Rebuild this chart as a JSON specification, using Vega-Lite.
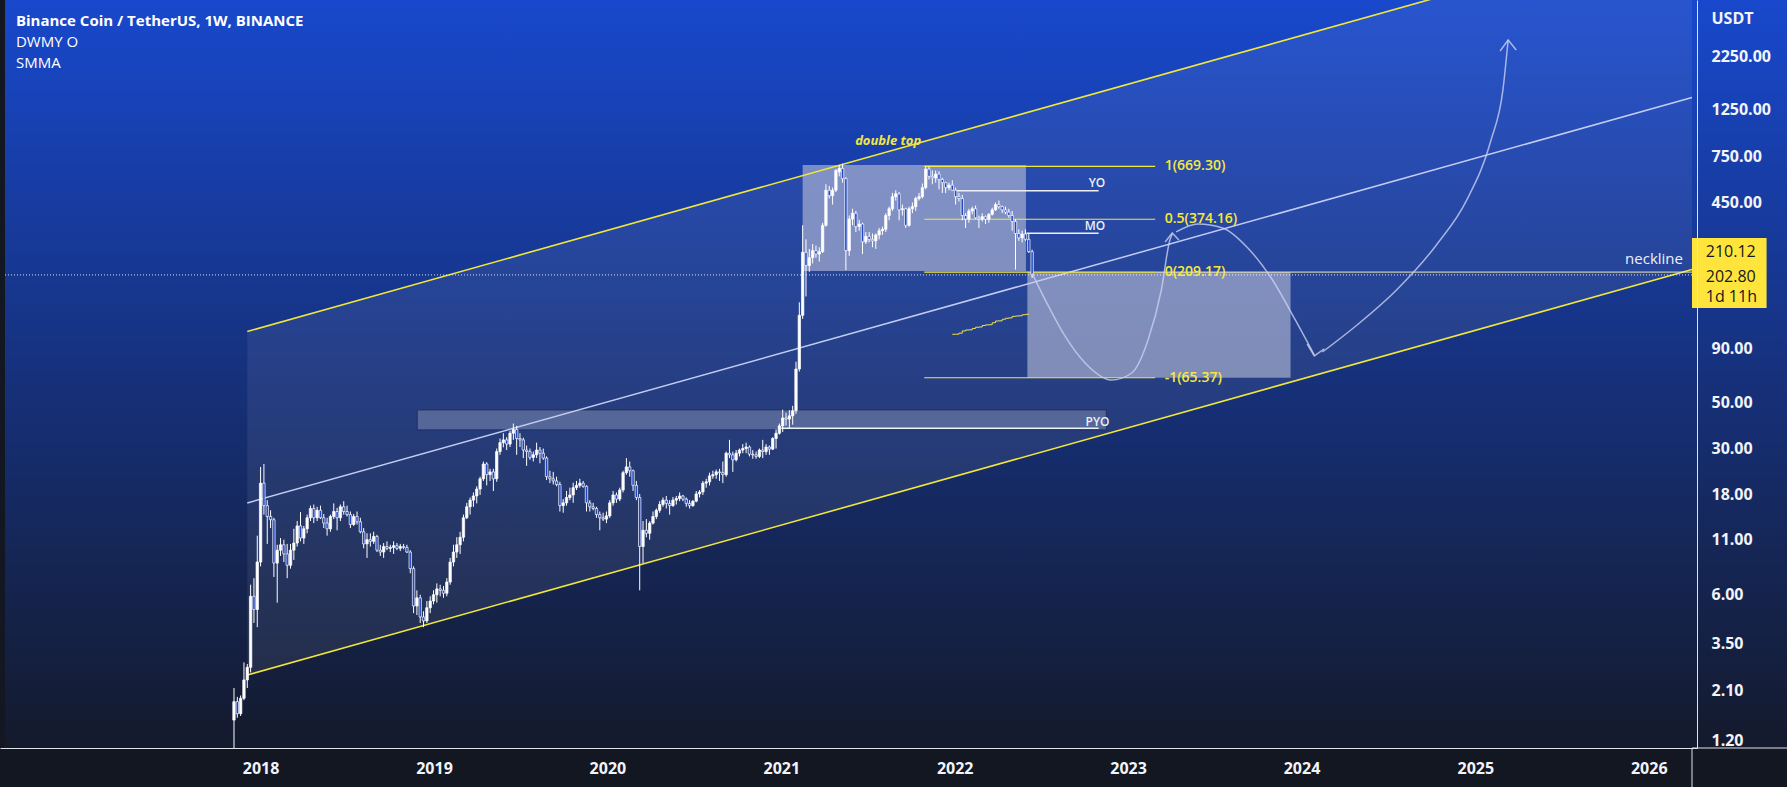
{
"$schema": "https://vega.github.io/schema/vega-lite/v6.json",
"width": 1697, "height": 748,
"autosize": {"type": "none"},
"padding": {"left": 0, "top": 0, "right": 90, "bottom": 39},
"background": "#131722",
"config": {"view": {"stroke": null}, "font": "Open Sans"},
"datasets": {
"bg": [{"t":"2016-07-12","t2":"2027-06-01","p":4180,"p2":1.1107}],
"band": [{"t":"2017-12-04","p":108.8,"p2":2.48},{"t":"2026-04-02","p":9444,"p2":215.3}],
"chan": [{"g":"u","t":"2017-12-04","p":108.8},{"g":"u","t":"2026-04-02","p":9444},{"g":"l","t":"2017-12-04","p":2.48},{"g":"l","t":"2026-04-02","p":215.3}],
"mid": [{"t":"2017-12-04","p":16.48},{"t":"2026-04-02","p":1430}],
"boxes": [{"t":"2021-02-15","t2":"2022-05-31","p":680,"p2":211.5},{"t":"2022-06-03","t2":"2023-12-09","p":209.17,"p2":65.37}],
"pyo": [{"t":"2018-11-27","t2":"2022-11-16","p":45.8,"p2":36.9}],
"fib": [{"t":"2021-10-29","t2":"2023-02-27","p":669.3},{"t":"2021-10-29","t2":"2023-02-27","p":374.16},{"t":"2021-10-29","t2":"2023-02-27","p":209.17},{"t":"2021-10-29","t2":"2023-02-27","p":65.37}],
"neck": [{"t":"2023-02-27","t2":"2026-04-02","p":209.17}],
"levels": [{"t":"2022-01-01","t2":"2022-10-31","p":511.7},{"t":"2022-06-01","t2":"2022-10-31","p":320.6},{"t":"2021-01-01","t2":"2022-10-31","p":37.5}],
"price": [{"t":"2016-07-12","t2":"2026-04-02","p":202.8}],
"smma": [{"t":"2021-12-27","p":105.5},{"t":"2022-01-03","p":105.6},{"t":"2022-01-10","p":106.8},{"t":"2022-01-17","p":109.5},{"t":"2022-01-24","p":110.6},{"t":"2022-01-31","p":110.8},{"t":"2022-02-07","p":112.5},{"t":"2022-02-14","p":114.0},{"t":"2022-02-21","p":114.3},{"t":"2022-02-28","p":116.2},{"t":"2022-03-07","p":117.0},{"t":"2022-03-14","p":117.2},{"t":"2022-03-21","p":119.8},{"t":"2022-03-28","p":122.1},{"t":"2022-04-04","p":122.3},{"t":"2022-04-11","p":124.5},{"t":"2022-04-18","p":125.8},{"t":"2022-04-25","p":126.4},{"t":"2022-05-02","p":128.5},{"t":"2022-05-09","p":129.0},{"t":"2022-05-16","p":129.3},{"t":"2022-05-23","p":130.8},{"t":"2022-05-30","p":131.5},{"t":"2022-06-06","p":131.9}],
"curves": [
{"g":"a","t":"2022-06-13","p":206.5},{"g":"a","t":"2022-07-18","p":142.9},{"g":"a","t":"2022-08-22","p":102.7},{"g":"a","t":"2022-10-03","p":76.7},{"g":"a","t":"2022-11-27","p":63.8},{"g":"a","t":"2023-01-08","p":68.7},{"g":"a","t":"2023-02-12","p":99.1},{"g":"a","t":"2023-03-12","p":171.8},{"g":"a","t":"2023-03-30","p":297.9},{"g":"a","t":"2023-04-04","p":318.3},
{"g":"b","t":"2023-04-12","p":325.4},{"g":"b","t":"2023-05-28","p":355.4},{"g":"b","t":"2023-07-19","p":340.1},{"g":"b","t":"2023-09-10","p":272.9},{"g":"b","t":"2023-11-01","p":191.8},{"g":"b","t":"2023-12-19","p":123.5},{"g":"b","t":"2024-01-28","p":84.0},
{"g":"c","t":"2024-02-14","p":86.8},{"g":"c","t":"2024-04-27","p":116.9},{"g":"c","t":"2024-07-19","p":171.8},{"g":"c","t":"2024-10-11","p":282.0},{"g":"c","t":"2024-12-14","p":462.8},{"g":"c","t":"2025-02-03","p":895.5},{"g":"c","t":"2025-02-28","p":1553},{"g":"c","t":"2025-03-11","p":2692}],
"heads": [
{"g":"h1","k":1,"t":"2023-03-20","p":291.4},{"g":"h1","k":2,"t":"2023-04-04","p":321.8},{"g":"h1","k":3,"t":"2023-04-18","p":297.9},
{"g":"h2","k":1,"t":"2024-01-13","p":94.8},{"g":"h2","k":2,"t":"2024-01-28","p":83.1},{"g":"h2","k":3,"t":"2024-02-18","p":89.8},
{"g":"h3","k":1,"t":"2025-02-22","p":2386},{"g":"h3","k":2,"t":"2025-03-11","p":2692},{"g":"h3","k":3,"t":"2025-03-28","p":2412}],
"title": [{"t":"2016-08-04","p":3321,"s":"Binance Coin / TetherUS, 1W, BINANCE"}],
"sub": [{"t":"2016-08-04","p":2636,"s":"DWMY O"},{"t":"2016-08-04","p":2092,"s":"SMMA"}],
"fibtxt": [{"t":"2023-03-19","p":669.3,"s":"1(669.30)"},{"t":"2023-03-19","p":374.16,"s":"0.5(374.16)"},{"t":"2023-03-19","p":209.17,"s":"0(209.17)"},{"t":"2023-03-19","p":65.37,"s":"-1(65.37)"}],
"lvltxt": [{"t":"2022-11-14","p":557.6,"s":"YO"},{"t":"2022-11-14","p":347.6,"s":"MO"},{"t":"2022-11-23","p":40.3,"s":"PYO"}],
"necktxt": [{"t":"2026-03-14","p":241.6,"s":"neckline"}],
"dtop": [{"t":"2021-08-14","p":885.6,"s":"double top"}],
"ybox": [{"t":"2026-04-02","t2":"2026-09-06","p":304.7,"p2":141}],
"yboxtxt": [{"t":"2026-05-01","p":261,"s":"210.12"},{"t":"2026-05-01","p":198.2,"s":"202.80"},{"t":"2026-05-01","p":159.1,"s":"1d 11h"}],
"axh": [{"t":"2026-04-02","t2":"2027-06-01","p":1.1107}],
"axv": [{"t":"2026-04-02","p":1.1107,"p2":0.7}],
"candles": [
{"t":"2017-11-06","o":1.51,"h":2.15,"l":1.0,"c":1.85},
{"t":"2017-11-13","o":1.85,"h":1.95,"l":1.55,"c":1.62},
{"t":"2017-11-20","o":1.62,"h":1.98,"l":1.58,"c":1.92},
{"t":"2017-11-27","o":1.92,"h":2.85,"l":1.88,"c":2.35},
{"t":"2017-12-04","o":2.35,"h":2.8,"l":2.15,"c":2.7},
{"t":"2017-12-11","o":2.7,"h":6.7,"l":2.55,"c":5.9},
{"t":"2017-12-18","o":5.9,"h":7.2,"l":4.4,"c":5.1},
{"t":"2017-12-25","o":5.1,"h":11.5,"l":4.2,"c":8.6},
{"t":"2018-01-01","o":8.6,"h":24.5,"l":8.2,"c":20.5},
{"t":"2018-01-08","o":20.5,"h":25.3,"l":14.5,"c":16.0},
{"t":"2018-01-15","o":16.0,"h":17.0,"l":10.5,"c":14.2},
{"t":"2018-01-22","o":14.2,"h":15.2,"l":12.5,"c":13.7},
{"t":"2018-01-29","o":13.7,"h":14.0,"l":7.3,"c":8.5},
{"t":"2018-02-05","o":8.5,"h":10.4,"l":5.5,"c":9.8},
{"t":"2018-02-12","o":9.8,"h":11.2,"l":9.2,"c":10.4},
{"t":"2018-02-19","o":10.4,"h":11.0,"l":8.6,"c":9.4},
{"t":"2018-02-26","o":9.4,"h":10.5,"l":7.2,"c":8.3},
{"t":"2018-03-05","o":8.3,"h":10.5,"l":8.0,"c":9.8},
{"t":"2018-03-12","o":9.8,"h":12.4,"l":8.8,"c":10.6},
{"t":"2018-03-19","o":10.6,"h":13.5,"l":10.2,"c":12.8},
{"t":"2018-03-26","o":12.8,"h":14.9,"l":10.8,"c":11.2},
{"t":"2018-04-02","o":11.2,"h":12.8,"l":10.5,"c":12.4},
{"t":"2018-04-09","o":12.4,"h":14.5,"l":11.8,"c":14.0},
{"t":"2018-04-16","o":14.0,"h":16.0,"l":13.5,"c":15.5},
{"t":"2018-04-23","o":15.5,"h":16.2,"l":13.2,"c":14.0},
{"t":"2018-04-30","o":14.0,"h":15.8,"l":13.5,"c":15.2},
{"t":"2018-05-07","o":15.2,"h":16.0,"l":13.8,"c":14.0},
{"t":"2018-05-14","o":14.0,"h":14.6,"l":12.5,"c":13.2},
{"t":"2018-05-21","o":13.2,"h":14.0,"l":11.5,"c":12.4},
{"t":"2018-05-28","o":12.4,"h":14.5,"l":12.0,"c":14.2},
{"t":"2018-06-04","o":14.2,"h":16.4,"l":13.8,"c":15.0},
{"t":"2018-06-11","o":15.0,"h":15.6,"l":12.2,"c":14.0},
{"t":"2018-06-18","o":14.0,"h":16.2,"l":13.5,"c":15.8},
{"t":"2018-06-25","o":15.8,"h":16.8,"l":14.5,"c":15.0},
{"t":"2018-07-02","o":15.0,"h":16.0,"l":14.2,"c":14.5},
{"t":"2018-07-09","o":14.5,"h":15.0,"l":12.5,"c":13.0},
{"t":"2018-07-16","o":13.0,"h":14.6,"l":12.8,"c":14.2},
{"t":"2018-07-23","o":14.2,"h":15.0,"l":13.0,"c":13.4},
{"t":"2018-07-30","o":13.4,"h":14.0,"l":11.8,"c":12.0},
{"t":"2018-08-06","o":12.0,"h":12.5,"l":10.0,"c":10.5},
{"t":"2018-08-13","o":10.5,"h":11.8,"l":9.0,"c":11.0},
{"t":"2018-08-20","o":11.0,"h":11.8,"l":10.2,"c":10.8},
{"t":"2018-08-27","o":10.8,"h":12.0,"l":10.5,"c":11.4},
{"t":"2018-09-03","o":11.4,"h":11.6,"l":9.6,"c":9.8},
{"t":"2018-09-10","o":9.8,"h":10.4,"l":9.2,"c":9.6},
{"t":"2018-09-17","o":9.6,"h":10.6,"l":9.0,"c":10.2},
{"t":"2018-09-24","o":10.2,"h":10.8,"l":9.8,"c":10.0},
{"t":"2018-10-01","o":10.0,"h":10.4,"l":9.6,"c":10.1},
{"t":"2018-10-08","o":10.1,"h":10.8,"l":9.4,"c":10.3},
{"t":"2018-10-15","o":10.3,"h":10.6,"l":9.8,"c":10.0},
{"t":"2018-10-22","o":10.0,"h":10.5,"l":9.7,"c":10.2},
{"t":"2018-10-29","o":10.2,"h":10.5,"l":9.9,"c":10.1},
{"t":"2018-11-05","o":10.1,"h":10.4,"l":9.5,"c":9.6},
{"t":"2018-11-12","o":9.6,"h":9.8,"l":7.6,"c":8.0},
{"t":"2018-11-19","o":8.0,"h":8.2,"l":4.9,"c":5.3},
{"t":"2018-11-26","o":5.3,"h":6.3,"l":4.8,"c":5.8},
{"t":"2018-12-03","o":5.8,"h":6.0,"l":4.4,"c":4.7},
{"t":"2018-12-10","o":4.7,"h":5.0,"l":4.2,"c":4.5},
{"t":"2018-12-17","o":4.5,"h":5.6,"l":4.4,"c":5.2},
{"t":"2018-12-24","o":5.2,"h":5.9,"l":4.9,"c":5.6},
{"t":"2018-12-31","o":5.6,"h":6.3,"l":5.4,"c":6.0},
{"t":"2019-01-07","o":6.0,"h":6.8,"l":5.5,"c":6.4},
{"t":"2019-01-14","o":6.4,"h":6.7,"l":5.9,"c":6.3},
{"t":"2019-01-21","o":6.3,"h":6.6,"l":5.8,"c":6.1},
{"t":"2019-01-28","o":6.1,"h":7.2,"l":5.9,"c":6.9},
{"t":"2019-02-04","o":6.9,"h":9.0,"l":6.7,"c":8.6},
{"t":"2019-02-11","o":8.6,"h":10.4,"l":8.2,"c":9.6},
{"t":"2019-02-18","o":9.6,"h":11.3,"l":9.0,"c":10.4},
{"t":"2019-02-25","o":10.4,"h":12.0,"l":9.4,"c":11.3},
{"t":"2019-03-04","o":11.3,"h":14.5,"l":10.8,"c":14.0},
{"t":"2019-03-11","o":14.0,"h":16.5,"l":13.8,"c":15.8},
{"t":"2019-03-18","o":15.8,"h":17.5,"l":14.5,"c":17.0},
{"t":"2019-03-25","o":17.0,"h":18.5,"l":15.8,"c":17.8},
{"t":"2019-04-01","o":17.8,"h":19.8,"l":16.4,"c":19.2},
{"t":"2019-04-08","o":19.2,"h":22.0,"l":18.0,"c":21.5},
{"t":"2019-04-15","o":21.5,"h":26.0,"l":21.0,"c":25.3},
{"t":"2019-04-22","o":25.3,"h":25.8,"l":20.0,"c":22.5},
{"t":"2019-04-29","o":22.5,"h":24.0,"l":21.0,"c":23.2},
{"t":"2019-05-06","o":23.2,"h":24.0,"l":18.8,"c":21.5},
{"t":"2019-05-13","o":21.5,"h":30.0,"l":20.8,"c":29.0},
{"t":"2019-05-20","o":29.0,"h":33.5,"l":28.0,"c":32.0},
{"t":"2019-05-27","o":32.0,"h":35.5,"l":30.4,"c":33.0},
{"t":"2019-06-03","o":33.0,"h":34.0,"l":29.5,"c":31.5},
{"t":"2019-06-10","o":31.5,"h":36.5,"l":30.5,"c":35.5},
{"t":"2019-06-17","o":35.5,"h":39.5,"l":33.0,"c":37.0},
{"t":"2019-06-24","o":37.0,"h":38.5,"l":28.0,"c":33.5},
{"t":"2019-07-01","o":33.5,"h":35.5,"l":30.5,"c":33.0},
{"t":"2019-07-08","o":33.0,"h":33.8,"l":27.0,"c":29.5},
{"t":"2019-07-15","o":29.5,"h":31.0,"l":24.8,"c":29.0},
{"t":"2019-07-22","o":29.0,"h":30.0,"l":26.5,"c":27.2},
{"t":"2019-07-29","o":27.2,"h":29.0,"l":26.0,"c":28.0},
{"t":"2019-08-05","o":28.0,"h":32.0,"l":27.0,"c":29.5},
{"t":"2019-08-12","o":29.5,"h":30.5,"l":25.5,"c":28.5},
{"t":"2019-08-19","o":28.5,"h":30.0,"l":26.5,"c":27.0},
{"t":"2019-08-26","o":27.0,"h":27.5,"l":21.2,"c":22.0},
{"t":"2019-09-02","o":22.0,"h":23.5,"l":20.5,"c":21.5},
{"t":"2019-09-09","o":21.5,"h":23.2,"l":20.2,"c":21.0},
{"t":"2019-09-16","o":21.0,"h":22.0,"l":19.8,"c":20.2},
{"t":"2019-09-23","o":20.2,"h":20.8,"l":15.0,"c":16.0},
{"t":"2019-09-30","o":16.0,"h":17.2,"l":14.8,"c":16.5},
{"t":"2019-10-07","o":16.5,"h":18.8,"l":16.0,"c":17.5},
{"t":"2019-10-14","o":17.5,"h":19.5,"l":17.0,"c":18.0},
{"t":"2019-10-21","o":18.0,"h":20.6,"l":16.5,"c":19.5},
{"t":"2019-10-28","o":19.5,"h":21.0,"l":19.0,"c":20.0},
{"t":"2019-11-04","o":20.0,"h":21.5,"l":19.5,"c":20.5},
{"t":"2019-11-11","o":20.5,"h":21.0,"l":19.5,"c":19.8},
{"t":"2019-11-18","o":19.8,"h":20.0,"l":15.0,"c":16.5},
{"t":"2019-11-25","o":16.5,"h":17.0,"l":15.0,"c":15.8},
{"t":"2019-12-02","o":15.8,"h":16.5,"l":15.2,"c":15.5},
{"t":"2019-12-09","o":15.5,"h":15.8,"l":14.0,"c":14.5},
{"t":"2019-12-16","o":14.5,"h":15.0,"l":12.2,"c":14.0},
{"t":"2019-12-23","o":14.0,"h":14.8,"l":13.5,"c":13.8},
{"t":"2019-12-30","o":13.8,"h":15.0,"l":13.2,"c":14.3},
{"t":"2020-01-06","o":14.3,"h":17.0,"l":14.0,"c":16.5},
{"t":"2020-01-13","o":16.5,"h":18.8,"l":16.0,"c":18.0},
{"t":"2020-01-20","o":18.0,"h":18.5,"l":16.5,"c":17.2},
{"t":"2020-01-27","o":17.2,"h":19.5,"l":16.8,"c":19.0},
{"t":"2020-02-03","o":19.0,"h":23.5,"l":18.5,"c":23.0},
{"t":"2020-02-10","o":23.0,"h":27.0,"l":22.5,"c":24.5},
{"t":"2020-02-17","o":24.5,"h":26.0,"l":22.0,"c":23.5},
{"t":"2020-02-24","o":23.5,"h":23.8,"l":18.8,"c":20.0},
{"t":"2020-03-02","o":20.0,"h":21.0,"l":17.0,"c":17.5},
{"t":"2020-03-09","o":17.5,"h":18.2,"l":6.3,"c":10.2},
{"t":"2020-03-16","o":10.2,"h":13.5,"l":8.5,"c":12.2},
{"t":"2020-03-23","o":12.2,"h":13.8,"l":11.3,"c":11.8},
{"t":"2020-03-30","o":11.8,"h":13.5,"l":11.0,"c":13.2},
{"t":"2020-04-06","o":13.2,"h":15.0,"l":13.0,"c":14.2},
{"t":"2020-04-13","o":14.2,"h":15.5,"l":13.8,"c":15.2},
{"t":"2020-04-20","o":15.2,"h":16.8,"l":14.8,"c":16.2},
{"t":"2020-04-27","o":16.2,"h":17.5,"l":15.8,"c":17.0},
{"t":"2020-05-04","o":17.0,"h":17.8,"l":15.5,"c":16.4},
{"t":"2020-05-11","o":16.4,"h":17.0,"l":14.5,"c":16.0},
{"t":"2020-05-18","o":16.0,"h":17.6,"l":15.8,"c":17.0},
{"t":"2020-05-25","o":17.0,"h":17.8,"l":16.2,"c":17.3},
{"t":"2020-06-01","o":17.3,"h":18.5,"l":16.8,"c":17.8},
{"t":"2020-06-08","o":17.8,"h":18.0,"l":16.8,"c":17.2},
{"t":"2020-06-15","o":17.2,"h":17.5,"l":15.8,"c":16.4},
{"t":"2020-06-22","o":16.4,"h":17.0,"l":15.5,"c":16.0},
{"t":"2020-06-29","o":16.0,"h":17.0,"l":15.8,"c":16.8},
{"t":"2020-07-06","o":16.8,"h":18.8,"l":16.6,"c":18.2},
{"t":"2020-07-13","o":18.2,"h":19.0,"l":17.5,"c":18.6},
{"t":"2020-07-20","o":18.6,"h":21.0,"l":18.0,"c":20.5},
{"t":"2020-07-27","o":20.5,"h":21.5,"l":19.5,"c":20.8},
{"t":"2020-08-03","o":20.8,"h":23.0,"l":20.0,"c":22.2},
{"t":"2020-08-10","o":22.2,"h":23.5,"l":21.5,"c":22.5},
{"t":"2020-08-17","o":22.5,"h":23.8,"l":21.5,"c":23.2},
{"t":"2020-08-24","o":23.2,"h":24.0,"l":21.0,"c":23.0},
{"t":"2020-08-31","o":23.0,"h":26.0,"l":20.5,"c":22.5},
{"t":"2020-09-07","o":22.5,"h":29.0,"l":22.0,"c":28.5},
{"t":"2020-09-14","o":28.5,"h":33.0,"l":27.0,"c":28.0},
{"t":"2020-09-21","o":28.0,"h":29.0,"l":23.2,"c":26.5},
{"t":"2020-09-28","o":26.5,"h":29.5,"l":26.0,"c":28.5},
{"t":"2020-10-05","o":28.5,"h":30.0,"l":27.5,"c":29.5},
{"t":"2020-10-12","o":29.5,"h":31.5,"l":28.5,"c":30.0},
{"t":"2020-10-19","o":30.0,"h":32.0,"l":28.5,"c":30.5},
{"t":"2020-10-26","o":30.5,"h":31.0,"l":27.5,"c":28.2},
{"t":"2020-11-02","o":28.2,"h":29.5,"l":26.8,"c":28.0},
{"t":"2020-11-09","o":28.0,"h":29.0,"l":26.8,"c":27.5},
{"t":"2020-11-16","o":27.5,"h":30.0,"l":27.0,"c":29.5},
{"t":"2020-11-23","o":29.5,"h":33.0,"l":27.0,"c":29.0},
{"t":"2020-11-30","o":29.0,"h":31.5,"l":28.0,"c":30.5},
{"t":"2020-12-07","o":30.5,"h":31.0,"l":28.0,"c":29.8},
{"t":"2020-12-14","o":29.8,"h":34.0,"l":29.5,"c":33.5},
{"t":"2020-12-21","o":33.5,"h":37.0,"l":30.0,"c":35.5},
{"t":"2020-12-28","o":35.5,"h":39.5,"l":35.0,"c":38.5},
{"t":"2021-01-04","o":38.5,"h":46.0,"l":36.0,"c":42.0},
{"t":"2021-01-11","o":42.0,"h":44.5,"l":38.6,"c":41.5},
{"t":"2021-01-18","o":41.5,"h":45.8,"l":37.5,"c":43.0},
{"t":"2021-01-25","o":43.0,"h":48.0,"l":39.0,"c":45.5},
{"t":"2021-02-01","o":45.5,"h":78.0,"l":44.0,"c":72.0},
{"t":"2021-02-08","o":72.0,"h":150,"l":70.0,"c":130},
{"t":"2021-02-15","o":130,"h":350,"l":125,"c":260},
{"t":"2021-02-22","o":260,"h":300,"l":160,"c":225},
{"t":"2021-03-01","o":225,"h":270,"l":210,"c":245},
{"t":"2021-03-08","o":245,"h":285,"l":230,"c":265},
{"t":"2021-03-15","o":265,"h":280,"l":245,"c":255},
{"t":"2021-03-22","o":255,"h":275,"l":235,"c":262},
{"t":"2021-03-29","o":262,"h":360,"l":258,"c":350},
{"t":"2021-04-05","o":350,"h":550,"l":345,"c":515},
{"t":"2021-04-12","o":515,"h":540,"l":470,"c":485},
{"t":"2021-04-19","o":485,"h":530,"l":440,"c":515},
{"t":"2021-04-26","o":515,"h":650,"l":505,"c":640},
{"t":"2021-05-03","o":630,"h":680,"l":600,"c":655},
{"t":"2021-05-10","o":655,"h":690,"l":560,"c":585},
{"t":"2021-05-17","o":585,"h":595,"l":214,"c":265},
{"t":"2021-05-24","o":265,"h":390,"l":250,"c":375},
{"t":"2021-05-31","o":375,"h":420,"l":350,"c":400},
{"t":"2021-06-07","o":400,"h":410,"l":325,"c":345},
{"t":"2021-06-14","o":345,"h":372,"l":330,"c":355},
{"t":"2021-06-21","o":355,"h":360,"l":255,"c":292},
{"t":"2021-06-28","o":292,"h":325,"l":285,"c":310},
{"t":"2021-07-05","o":310,"h":325,"l":290,"c":300},
{"t":"2021-07-12","o":300,"h":320,"l":275,"c":295},
{"t":"2021-07-19","o":295,"h":320,"l":270,"c":315},
{"t":"2021-07-26","o":315,"h":340,"l":300,"c":330},
{"t":"2021-08-02","o":330,"h":345,"l":315,"c":335},
{"t":"2021-08-09","o":335,"h":400,"l":325,"c":390},
{"t":"2021-08-16","o":390,"h":430,"l":370,"c":420},
{"t":"2021-08-23","o":420,"h":500,"l":410,"c":480},
{"t":"2021-08-30","o":480,"h":515,"l":460,"c":495},
{"t":"2021-09-06","o":495,"h":505,"l":370,"c":415},
{"t":"2021-09-13","o":415,"h":440,"l":390,"c":420},
{"t":"2021-09-20","o":420,"h":425,"l":340,"c":350},
{"t":"2021-09-27","o":350,"h":430,"l":345,"c":420},
{"t":"2021-10-04","o":420,"h":450,"l":400,"c":430},
{"t":"2021-10-11","o":430,"h":480,"l":410,"c":470},
{"t":"2021-10-18","o":470,"h":500,"l":460,"c":480},
{"t":"2021-10-25","o":480,"h":555,"l":470,"c":530},
{"t":"2021-11-01","o":530,"h":670,"l":520,"c":650},
{"t":"2021-11-08","o":650,"h":670,"l":580,"c":600},
{"t":"2021-11-15","o":600,"h":640,"l":550,"c":590},
{"t":"2021-11-22","o":590,"h":640,"l":560,"c":615},
{"t":"2021-11-29","o":615,"h":635,"l":520,"c":580},
{"t":"2021-12-06","o":580,"h":590,"l":500,"c":560},
{"t":"2021-12-13","o":560,"h":565,"l":500,"c":530},
{"t":"2021-12-20","o":530,"h":560,"l":515,"c":545},
{"t":"2021-12-27","o":545,"h":575,"l":510,"c":515},
{"t":"2022-01-03","o":515,"h":530,"l":440,"c":480},
{"t":"2022-01-10","o":480,"h":500,"l":455,"c":470},
{"t":"2022-01-17","o":470,"h":490,"l":370,"c":390},
{"t":"2022-01-24","o":390,"h":400,"l":340,"c":375},
{"t":"2022-01-31","o":375,"h":420,"l":360,"c":410},
{"t":"2022-02-07","o":410,"h":430,"l":395,"c":420},
{"t":"2022-02-14","o":420,"h":435,"l":375,"c":380},
{"t":"2022-02-21","o":380,"h":390,"l":340,"c":375},
{"t":"2022-02-28","o":375,"h":400,"l":365,"c":385},
{"t":"2022-03-07","o":385,"h":390,"l":355,"c":375},
{"t":"2022-03-14","o":375,"h":400,"l":360,"c":395},
{"t":"2022-03-21","o":395,"h":425,"l":390,"c":415},
{"t":"2022-03-28","o":415,"h":450,"l":410,"c":440},
{"t":"2022-04-04","o":440,"h":460,"l":420,"c":430},
{"t":"2022-04-11","o":430,"h":435,"l":400,"c":415},
{"t":"2022-04-18","o":415,"h":430,"l":395,"c":405},
{"t":"2022-04-25","o":405,"h":420,"l":380,"c":390},
{"t":"2022-05-02","o":390,"h":410,"l":330,"c":365},
{"t":"2022-05-09","o":365,"h":375,"l":215,"c":320},
{"t":"2022-05-16","o":320,"h":335,"l":295,"c":305},
{"t":"2022-05-23","o":305,"h":330,"l":290,"c":318},
{"t":"2022-05-30","o":318,"h":335,"l":295,"c":300},
{"t":"2022-06-06","o":300,"h":318,"l":258,"c":262},
{"t":"2022-06-13","o":262,"h":268,"l":196,"c":202.8}
]
},
"encoding": {
"x": {"field": "t", "type": "temporal",
 "scale": {"domain": [{"year":2016,"month":7,"date":12},{"year":2026,"month":4,"date":2}], "nice": false},
 "axis": {"orient": "bottom", "title": null, "format": "%Y", "grid": false, "ticks": false, "tickSize": 0,
  "values": [{"year":2018,"month":1,"date":1},{"year":2019,"month":1,"date":1},{"year":2020,"month":1,"date":1},{"year":2021,"month":1,"date":1},{"year":2022,"month":1,"date":1},{"year":2023,"month":1,"date":1},{"year":2024,"month":1,"date":1},{"year":2025,"month":1,"date":1},{"year":2026,"month":1,"date":1}],
  "labelFont": "Open Sans", "labelFontSize": 16, "labelFontWeight": "bold", "labelColor": "#f2f4fa", "labelBaseline": "middle", "labelPadding": 20, "labelFlush": false, "labelOverlap": false,
  "domain": true, "domainColor": "#dfe3ee", "domainWidth": 1, "zindex": 1}},
"y": {"field": "p", "type": "quantitative",
 "scale": {"type": "log", "domain": [1.1107, 4180], "nice": false},
 "axis": {"orient": "right", "title": "USDT", "titleAngle": 0, "titleX": 14, "titleY": 18, "titleAlign": "left", "titleBaseline": "middle", "titleColor": "#f2f4fa", "titleFont": "Open Sans", "titleFontSize": 16, "titleFontWeight": "bold",
  "values": [1.2, 2.1, 3.5, 6, 11, 18, 30, 50, 90, 450, 750, 1250, 2250], "format": ".2f", "grid": false, "ticks": false, "tickSize": 0,
  "labelFont": "Open Sans", "labelFontSize": 16, "labelFontWeight": "bold", "labelColor": "#f2f4fa", "labelAlign": "left", "labelBaseline": "middle", "labelPadding": 14, "labelOverlap": false, "labelFlush": false,
  "domain": true, "domainColor": "#dfe3ee", "domainWidth": 1, "zindex": 1}}
},
"layer": [
{"data": {"name": "bg"}, "mark": {"type": "rect", "clip": false, "color": {"gradient": "linear", "x1": 0, "y1": 0, "x2": 0, "y2": 1, "stops": [{"offset": 0, "color": "#1848cc"}, {"offset": 1, "color": "#141a2c"}]}},
 "encoding": {"x2": {"field": "t2"}, "y2": {"field": "p2"}}},
{"data": {"name": "band"}, "mark": {"type": "area", "clip": true, "color": "#ffffff", "opacity": 0.07}, "encoding": {"y2": {"field": "p2"}}},
{"data": {"name": "pyo"}, "mark": {"type": "rect", "clip": true, "fill": "#ffffff", "fillOpacity": 0.22, "stroke": "#141a3a", "strokeOpacity": 0.5, "strokeWidth": 1}, "encoding": {"x2": {"field": "t2"}, "y2": {"field": "p2"}}},
{"data": {"name": "boxes"}, "mark": {"type": "rect", "clip": true, "color": "#b8bdd6", "opacity": 0.62}, "encoding": {"x2": {"field": "t2"}, "y2": {"field": "p2"}}},
{"data": {"name": "chan"}, "mark": {"type": "line", "clip": true, "color": "#f0e63c", "strokeWidth": 1.6}, "encoding": {"detail": {"field": "g"}}},
{"data": {"name": "mid"}, "mark": {"type": "line", "clip": true, "color": "#c3ccf2", "strokeWidth": 1.5}, "encoding": {}},
{"data": {"name": "price"}, "mark": {"type": "rule", "clip": true, "color": "#ffffff", "strokeWidth": 1, "strokeDash": [1, 2], "opacity": 0.85}, "encoding": {"x2": {"field": "t2"}}},
{"data": {"name": "neck"}, "mark": {"type": "rule", "clip": true, "color": "#efe9b4", "strokeWidth": 1}, "encoding": {"x2": {"field": "t2"}}},
{"data": {"name": "fib"}, "mark": {"type": "rule", "clip": true, "color": "#f7e93a", "strokeWidth": 1.2}, "encoding": {"x2": {"field": "t2"}}},
{"data": {"name": "levels"}, "mark": {"type": "rule", "clip": true, "color": "#eef0f8", "strokeWidth": 1.6}, "encoding": {"x2": {"field": "t2"}}},
{"data": {"name": "smma"}, "mark": {"type": "line", "clip": true, "color": "#f2e24a", "strokeWidth": 1, "interpolate": "step-after"}, "encoding": {}},
{"data": {"name": "candles"}, "mark": {"type": "rule", "clip": true, "color": "#ffffff", "strokeWidth": 1},
 "encoding": {"y": {"field": "l", "type": "quantitative", "scale": {"type": "log", "domain": [1.1107, 4180], "nice": false}}, "y2": {"field": "h"}}},
{"data": {"name": "candles"}, "mark": {"type": "bar", "clip": true, "size": 2.4, "stroke": "#ffffff", "strokeWidth": 0.7},
 "encoding": {"y": {"field": "o", "type": "quantitative", "scale": {"type": "log", "domain": [1.1107, 4180], "nice": false}}, "y2": {"field": "c"},
  "color": {"condition": {"test": "datum.c >= datum.o", "value": "#ffffff"}, "value": "#2146c4"}}},
{"data": {"name": "curves"}, "mark": {"type": "line", "clip": true, "color": "#c9cff0", "strokeWidth": 1.5, "opacity": 0.8, "interpolate": "monotone"}, "encoding": {"detail": {"field": "g"}}},
{"data": {"name": "heads"}, "mark": {"type": "line", "clip": true, "color": "#c9cff0", "strokeWidth": 1.5, "opacity": 0.8}, "encoding": {"detail": {"field": "g"}, "order": {"field": "k"}}},
{"data": {"name": "title"}, "mark": {"type": "text", "align": "left", "baseline": "middle", "font": "Open Sans", "fontSize": 15, "fontWeight": "bold", "color": "#ffffff"}, "encoding": {"text": {"field": "s"}}},
{"data": {"name": "sub"}, "mark": {"type": "text", "align": "left", "baseline": "middle", "font": "Open Sans", "fontSize": 15, "color": "#ffffff"}, "encoding": {"text": {"field": "s"}}},
{"data": {"name": "fibtxt"}, "mark": {"type": "text", "align": "left", "baseline": "middle", "font": "Open Sans", "fontSize": 14, "fontWeight": 600, "color": "#f7e93a"}, "encoding": {"text": {"field": "s"}}},
{"data": {"name": "lvltxt"}, "mark": {"type": "text", "align": "right", "baseline": "middle", "font": "Open Sans", "fontSize": 12, "fontWeight": 600, "color": "#eef0f8"}, "encoding": {"text": {"field": "s"}}},
{"data": {"name": "necktxt"}, "mark": {"type": "text", "align": "right", "baseline": "middle", "font": "Open Sans", "fontSize": 15, "color": "#eef0f8"}, "encoding": {"text": {"field": "s"}}},
{"data": {"name": "dtop"}, "mark": {"type": "text", "align": "center", "baseline": "middle", "font": "Open Sans", "fontSize": 13, "fontWeight": "bold", "fontStyle": "italic", "color": "#f2e640"}, "encoding": {"text": {"field": "s"}}},
{"data": {"name": "ybox"}, "mark": {"type": "rect", "clip": false, "color": "#ffe53b"}, "encoding": {"x2": {"field": "t2"}, "y2": {"field": "p2"}}},
{"data": {"name": "yboxtxt"}, "mark": {"type": "text", "clip": false, "align": "left", "baseline": "middle", "font": "Open Sans", "fontSize": 16, "color": "#131722"}, "encoding": {"text": {"field": "s"}}},
{"data": {"name": "axh"}, "mark": {"type": "rule", "clip": false, "color": "#dfe3ee", "strokeWidth": 1}, "encoding": {"x2": {"field": "t2"}}},
{"data": {"name": "axv"}, "mark": {"type": "rule", "clip": false, "color": "#dfe3ee", "strokeWidth": 1}, "encoding": {"y2": {"field": "p2"}}}
]
}
